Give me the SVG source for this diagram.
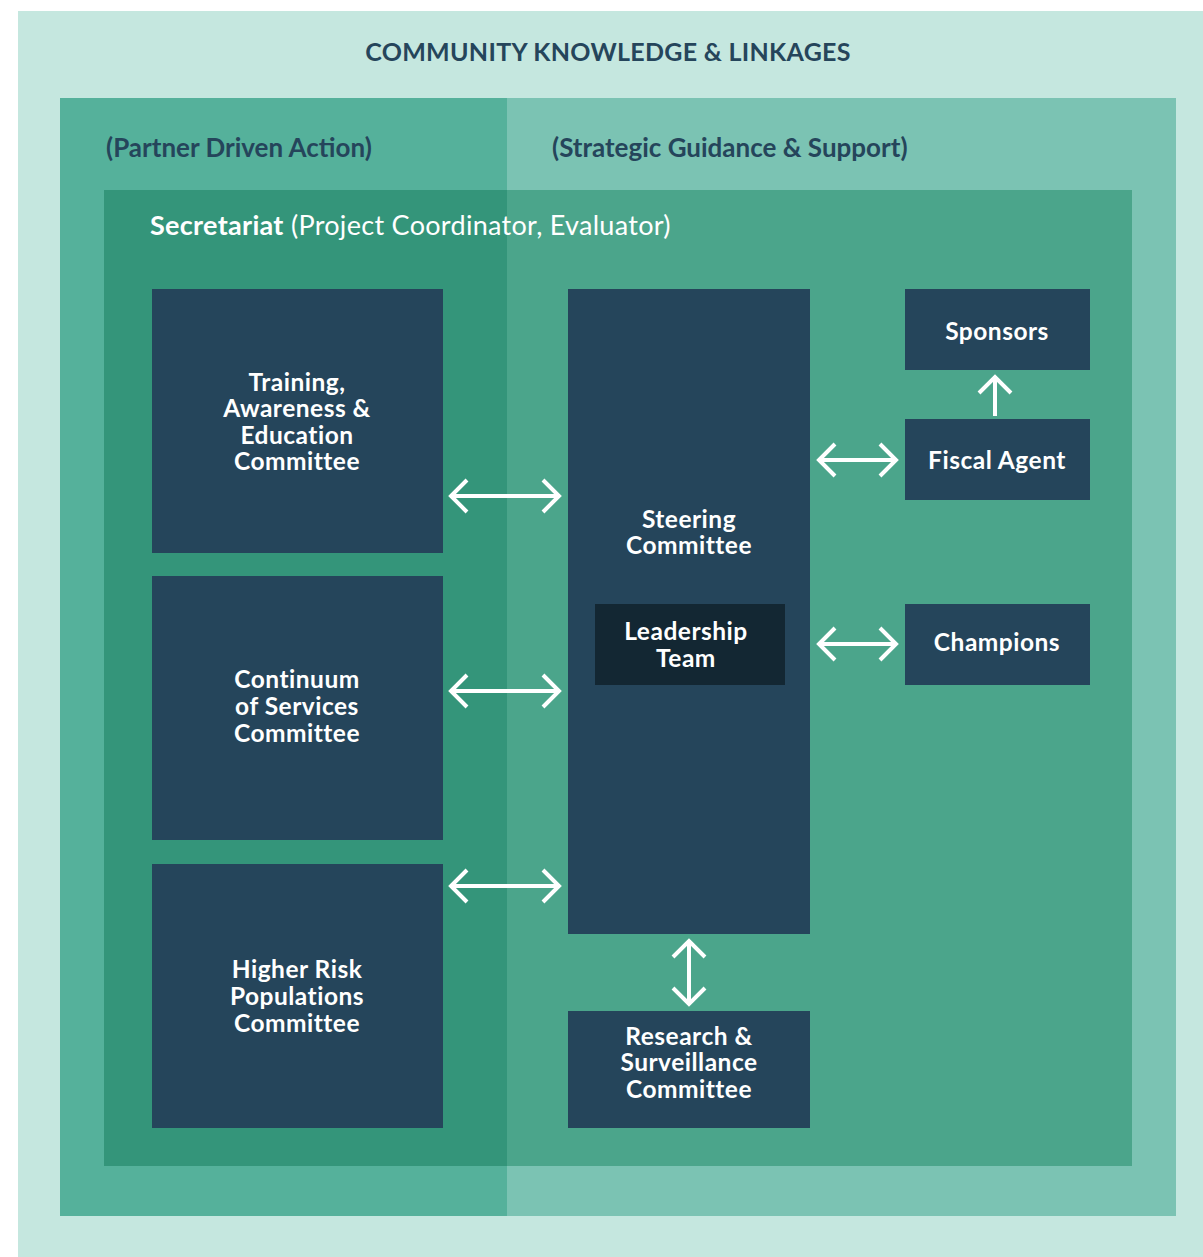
<svg xmlns="http://www.w3.org/2000/svg" width="1203" height="1257" viewBox="0 0 1203 1257">
<style>
.node{fill:#25455b}
.lbl{font-family:Lato,"Open Sans","Liberation Sans",sans-serif;font-weight:700;font-size:24.5px;letter-spacing:0.5px;fill:#ffffff;text-anchor:middle}
.hdr{font-family:Lato,"Open Sans","Liberation Sans",sans-serif;font-weight:700;fill:#25455b}
.arr{fill:none;stroke:#ffffff;stroke-width:4;stroke-linecap:butt;stroke-linejoin:miter}
</style>
<defs>
<marker id="ah" viewBox="0 0 22 36" refX="19" refY="18" markerWidth="22" markerHeight="36" markerUnits="userSpaceOnUse" orient="auto-start-reverse">
<path d="M2,2 L18,18 L2,34" fill="none" stroke="#ffffff" stroke-width="4"/>
</marker>
</defs>
<g id="background">
<rect x="18" y="11" width="1185" height="1246" fill="#c5e7df"/>
<rect x="60" y="98" width="447" height="1118" fill="#55b19b"/>
<rect x="507" y="98" width="669" height="1118" fill="#7bc3b3"/>
<rect x="104" y="190" width="403" height="976" fill="#34957a"/>
<rect x="507" y="190" width="625" height="976" fill="#4ba58b"/>
<text class="hdr" x="608" y="61" font-size="25" letter-spacing="0.3" text-anchor="middle">COMMUNITY KNOWLEDGE &amp; LINKAGES</text>
<text class="hdr" x="106" y="157" font-size="26">(Partner Driven Action)</text>
<text class="hdr" x="552" y="157" font-size="26">(Strategic Guidance &amp; Support)</text>
<text x="150" y="235" font-family="Lato,'Open Sans','Liberation Sans',sans-serif" font-size="27" letter-spacing="0.3" fill="#ffffff"><tspan font-weight="700">Secretariat</tspan> (Project Coordinator, Evaluator)</text>
</g>
<g id="connectors">
<line class="arr" x1="450" y1="496" x2="560" y2="496" marker-start="url(#ah)" marker-end="url(#ah)"/>
<line class="arr" x1="450" y1="691" x2="560" y2="691" marker-start="url(#ah)" marker-end="url(#ah)"/>
<line class="arr" x1="450" y1="886" x2="560" y2="886" marker-start="url(#ah)" marker-end="url(#ah)"/>
<line class="arr" x1="818" y1="460" x2="897" y2="460" marker-start="url(#ah)" marker-end="url(#ah)"/>
<line class="arr" x1="818" y1="644" x2="897" y2="644" marker-start="url(#ah)" marker-end="url(#ah)"/>
<line class="arr" x1="995" y1="416" x2="995" y2="376" marker-end="url(#ah)"/>
<line class="arr" x1="689" y1="940" x2="689" y2="1005" marker-start="url(#ah)" marker-end="url(#ah)"/>
</g>
<g id="training">
<rect class="node" x="152" y="289" width="291" height="264"/>
<text class="lbl" x="297" y="391">Training,</text>
<text class="lbl" x="297" y="417">Awareness &amp;</text>
<text class="lbl" x="297" y="444">Education</text>
<text class="lbl" x="297" y="470">Committee</text>
</g>
<g id="continuum">
<rect class="node" x="152" y="576" width="291" height="264"/>
<text class="lbl" x="297" y="688">Continuum</text>
<text class="lbl" x="297" y="715">of Services</text>
<text class="lbl" x="297" y="742">Committee</text>
</g>
<g id="higher-risk">
<rect class="node" x="152" y="864" width="291" height="264"/>
<text class="lbl" x="297" y="978">Higher Risk</text>
<text class="lbl" x="297" y="1005">Populations</text>
<text class="lbl" x="297" y="1032">Committee</text>
</g>
<g id="steering">
<rect class="node" x="568" y="289" width="242" height="645"/>
<text class="lbl" x="689" y="528">Steering</text>
<text class="lbl" x="689" y="554">Committee</text>
</g>
<g id="leadership">
<rect x="595" y="604" width="190" height="81" fill="#132733"/>
<text class="lbl" x="686" y="640">Leadership</text>
<text class="lbl" x="686" y="667">Team</text>
</g>
<g id="research">
<rect class="node" x="568" y="1011" width="242" height="117"/>
<text class="lbl" x="689" y="1045">Research &amp;</text>
<text class="lbl" x="689" y="1071">Surveillance</text>
<text class="lbl" x="689" y="1098">Committee</text>
</g>
<g id="sponsors">
<rect class="node" x="905" y="289" width="185" height="81"/>
<text class="lbl" x="997" y="340">Sponsors</text>
</g>
<g id="fiscal-agent">
<rect class="node" x="905" y="419" width="185" height="81"/>
<text class="lbl" x="997" y="469">Fiscal Agent</text>
</g>
<g id="champions">
<rect class="node" x="905" y="604" width="185" height="81"/>
<text class="lbl" x="997" y="651">Champions</text>
</g>
</svg>
